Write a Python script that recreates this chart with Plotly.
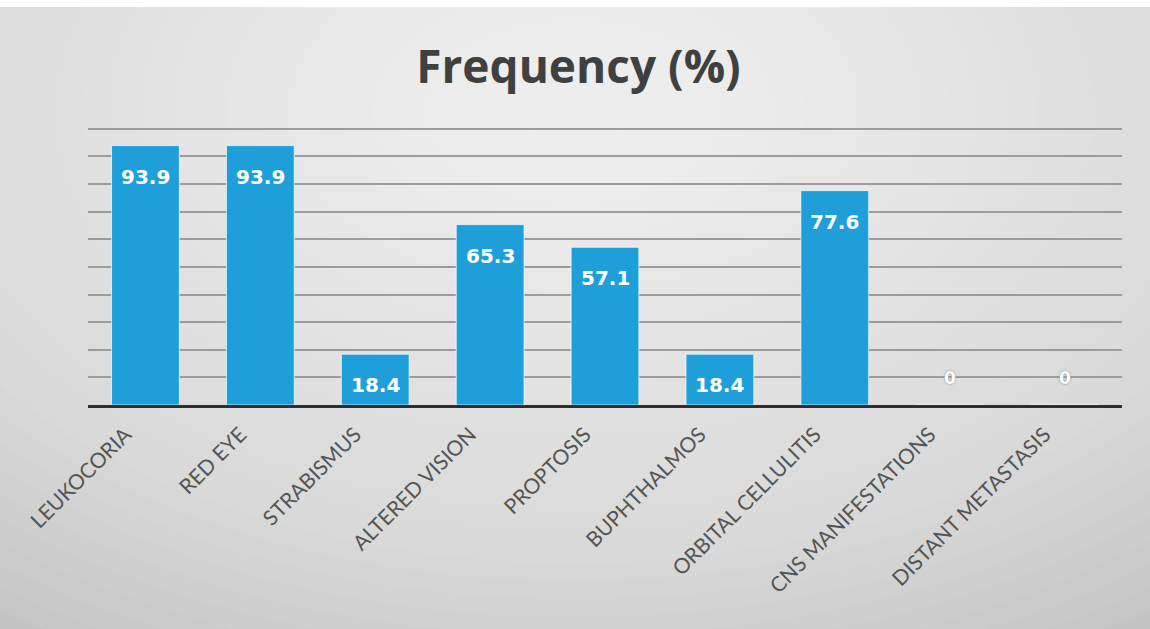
import plotly.graph_objects as go

categories = ["LEUKOCORIA", "RED EYE", "STRABISMUS", "ALTERED VISION", "PROPTOSIS",
              "BUPHTHALMOS", "ORBITAL CELLULITIS", "CNS MANIFESTATIONS", "DISTANT METASTASIS"]
values = [93.9, 93.9, 18.4, 65.3, 57.1, 18.4, 77.6, 0, 0]
y_ticks = [0, 10, 20, 30, 40, 50, 60, 70, 80, 90, 100]

fig = go.Figure()
fig.add_trace(go.Bar(
    x=categories, y=values,
    marker=dict(color="#1E9FD9", line=dict(color="rgba(255,255,255,0.7)", width=1)),
    hoverinfo="x+y",
))

annotations = []
for c, v in zip(categories, values):
    if v > 0:
        annotations.append(dict(x=c, y=v, xref="x", yref="y", text=f"{v:.1f}",
                                showarrow=False, yanchor="middle", yshift=-31,
                                font=dict(family="DejaVu Sans", size=20, color="white", weight="bold")))
    else:
        annotations.append(dict(x=c, y=v, xref="x", yref="y", text=f"{v:g}",
                                showarrow=False, yanchor="middle", yshift=27,
                                font=dict(family="DejaVu Sans", size=17, color="white", weight="bold",
                                          shadow="0px 0px 2px #777")))

# plot area in px: x 88..1122, y 126..405 (range 0..101)
pw, ph = 1034, 279
shapes = [dict(type="rect", xref="paper", yref="paper", x0=-88/pw, x1=1 + 28/pw,
               y0=-224/ph, y1=1 + (126 - 7)/ph, fillcolor="#c4c4c4", line_width=0, layer="below")]
n = 34
for i in range(n):
    f = 1 - i / n
    cx, cy = 0.47, 1.05
    rx, ry = 0.95 * f, 2.2 * f
    shapes.append(dict(type="circle", xref="paper", yref="paper",
                       x0=cx - rx, x1=cx + rx, y0=cy - ry, y1=cy + ry,
                       fillcolor="rgba(255,255,255,0.05)", line_width=0, layer="below"))

fig.update_layout(
    width=1150, height=629,
    margin=dict(l=88, r=28, t=126, b=224),
    paper_bgcolor="white",
    plot_bgcolor="rgba(0,0,0,0)",
    title=dict(text="<b>Frequency (%)</b>", x=0.503, xanchor="center", y=0.893, yanchor="middle",
               font=dict(family="Open Sans", size=46, color="#404040")),
    bargap=0.41,
    showlegend=False,
    shapes=shapes,
    annotations=annotations,
    xaxis=dict(tickangle=-45, tickfont=dict(family="Lato", size=21, color="#555555"),
               ticklabelstandoff=6, ticklabelshift=-20,
               showline=True, linecolor="#2e2e2e", linewidth=3, ticks="", showgrid=False),
    yaxis=dict(range=[0, 101], tickvals=y_ticks, showticklabels=False, showgrid=True,
               gridcolor="#9c9c9c", gridwidth=1.5, zeroline=False, showline=False),
)

fig.write_html("out.html")
